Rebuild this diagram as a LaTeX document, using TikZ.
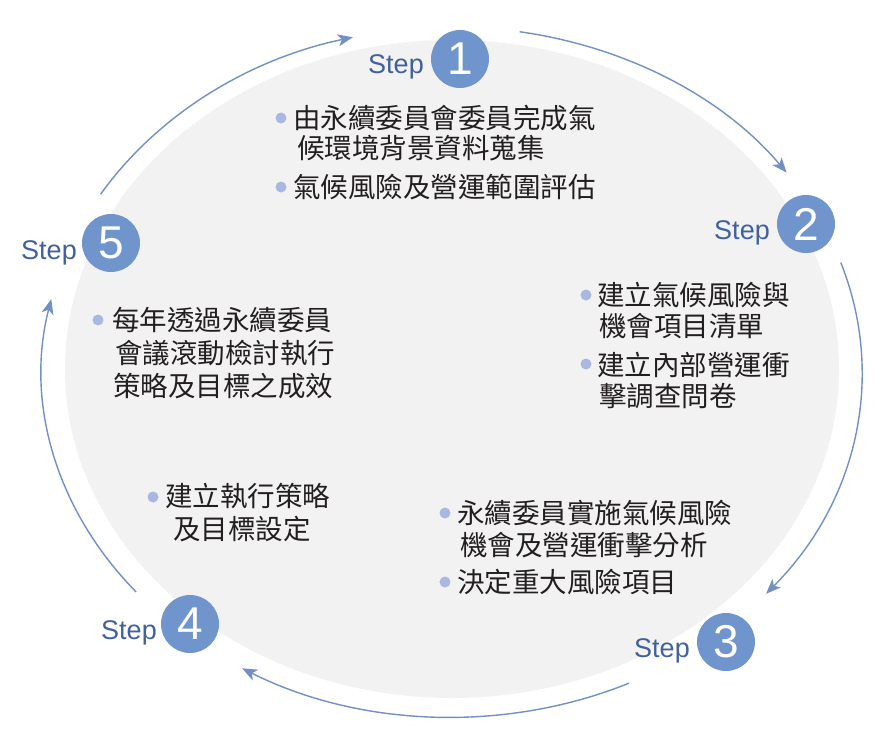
\documentclass[tikz,border=0pt]{standalone}
\usepackage{fontspec}
\setmainfont{Liberation Sans}
\newfontfamily\cjk{Noto Sans CJK TC}
\usetikzlibrary{arrows.meta}
\definecolor{diskgray}{RGB}{242,242,242}
\definecolor{circblue}{RGB}{112,149,205}
\definecolor{stepblue}{RGB}{64,96,158}
\definecolor{arrowblue}{RGB}{114,144,196}
\definecolor{bulletblue}{RGB}{168,184,224}
\definecolor{textdark}{RGB}{35,31,32}
\begin{document}
\begin{tikzpicture}[x=1pt,y=-1pt,
  cyc/.style={draw=arrowblue,line width=1.4pt,-{Stealth[length=15pt,width=12pt,inset=4pt]}},
  numcirc/.style={circle,fill=circblue,minimum size=58pt,inner sep=0,text=white,font=\fontsize{46}{46}\selectfont},
  steplabel/.style={text=stepblue,inner sep=0,font=\fontsize{27}{27}\selectfont},
  txt/.style={font=\cjk\fontsize{27.5}{33}\selectfont,text=textdark,inner sep=0,anchor=base west},
  bul/.style={circle,fill=bulletblue,minimum size=11pt,inner sep=0}]
\useasboundingbox (0,0) rectangle (895,734);
\fill[diskgray] (452,369) ellipse [x radius=387, y radius=329];
% cycle arrows
\draw[cyc] (452,372) ++(-149:410 and 345) arc[start angle=-149,end angle=-104,x radius=410,y radius=345];
\draw[cyc] (452,372) ++(-80.5:410 and 345) arc[start angle=-80.5,end angle=-35.3,x radius=410,y radius=345];
\draw[cyc] (452,372) ++(-18.5:410 and 345) arc[start angle=-18.5,end angle=40,x radius=410,y radius=345];
\draw[cyc] (452,372) ++(64.4:410 and 345) arc[start angle=64.4,end angle=120.8,x radius=410,y radius=345];
\draw[cyc] (452,372) ++(140.4:410 and 345) arc[start angle=140.4,end angle=192.2,x radius=410,y radius=345];
% step circles
\node[numcirc] (n1) at (460,59) {1};
\node[numcirc] (n2) at (806,224) {2};
\node[numcirc] (n3) at (726,642) {3};
\node[numcirc] (n4) at (190,624) {4};
\node[numcirc] (n5) at (111,243) {5};
\node[steplabel] (s1) at (396,67) {Step};
\node[steplabel] (s2) at (742,233) {Step};
\node[steplabel] (s3) at (662,651) {Step};
\node[steplabel] (s4) at (129,633) {Step};
\node[steplabel] (s5) at (49,253) {Step};
% block 1
\node[bul] (b1a) at (281,118) {};
\node[txt] (t1a) at (293,128.5) {由永續委員會委員完成氣};
\node[txt] (t1b) at (297,158.5) {候環境背景資料蒐集};
\node[bul] (b1b) at (281,187) {};
\node[txt] (t1c) at (293,197.5) {氣候風險及營運範圍評估};
% block 2
\node[bul] (b2a) at (586,295) {};
\node[txt] (t2a) at (597,305.5) {建立氣候風險與};
\node[txt] (t2b) at (599,336.5) {機會項目清單};
\node[bul] (b2b) at (586,364) {};
\node[txt] (t2c) at (597,375.5) {建立內部營運衝};
\node[txt] (t2d) at (599,406.5) {擊調查問卷};
% block 3
\node[bul] (b3a) at (445,513) {};
\node[txt] (t3a) at (457,523.5) {永續委員實施氣候風險};
\node[txt] (t3b) at (460,555.5) {機會及營運衝擊分析};
\node[bul] (b3b) at (445,582) {};
\node[txt] (t3c) at (457,592.5) {決定重大風險項目};
% block 4
\node[bul] (b4a) at (153,497) {};
\node[txt] (t4a) at (165,506.5) {建立執行策略};
\node[txt] (t4b) at (173,539.5) {及目標設定};
% block 5
\node[bul] (b5a) at (98,320) {};
\node[txt] (t5a) at (112,330.5) {每年透過永續委員};
\node[txt] (t5b) at (115,363.5) {會議滾動檢討執行};
\node[txt] (t5c) at (113,396.5) {策略及目標之成效};
\end{tikzpicture}
\end{document}
